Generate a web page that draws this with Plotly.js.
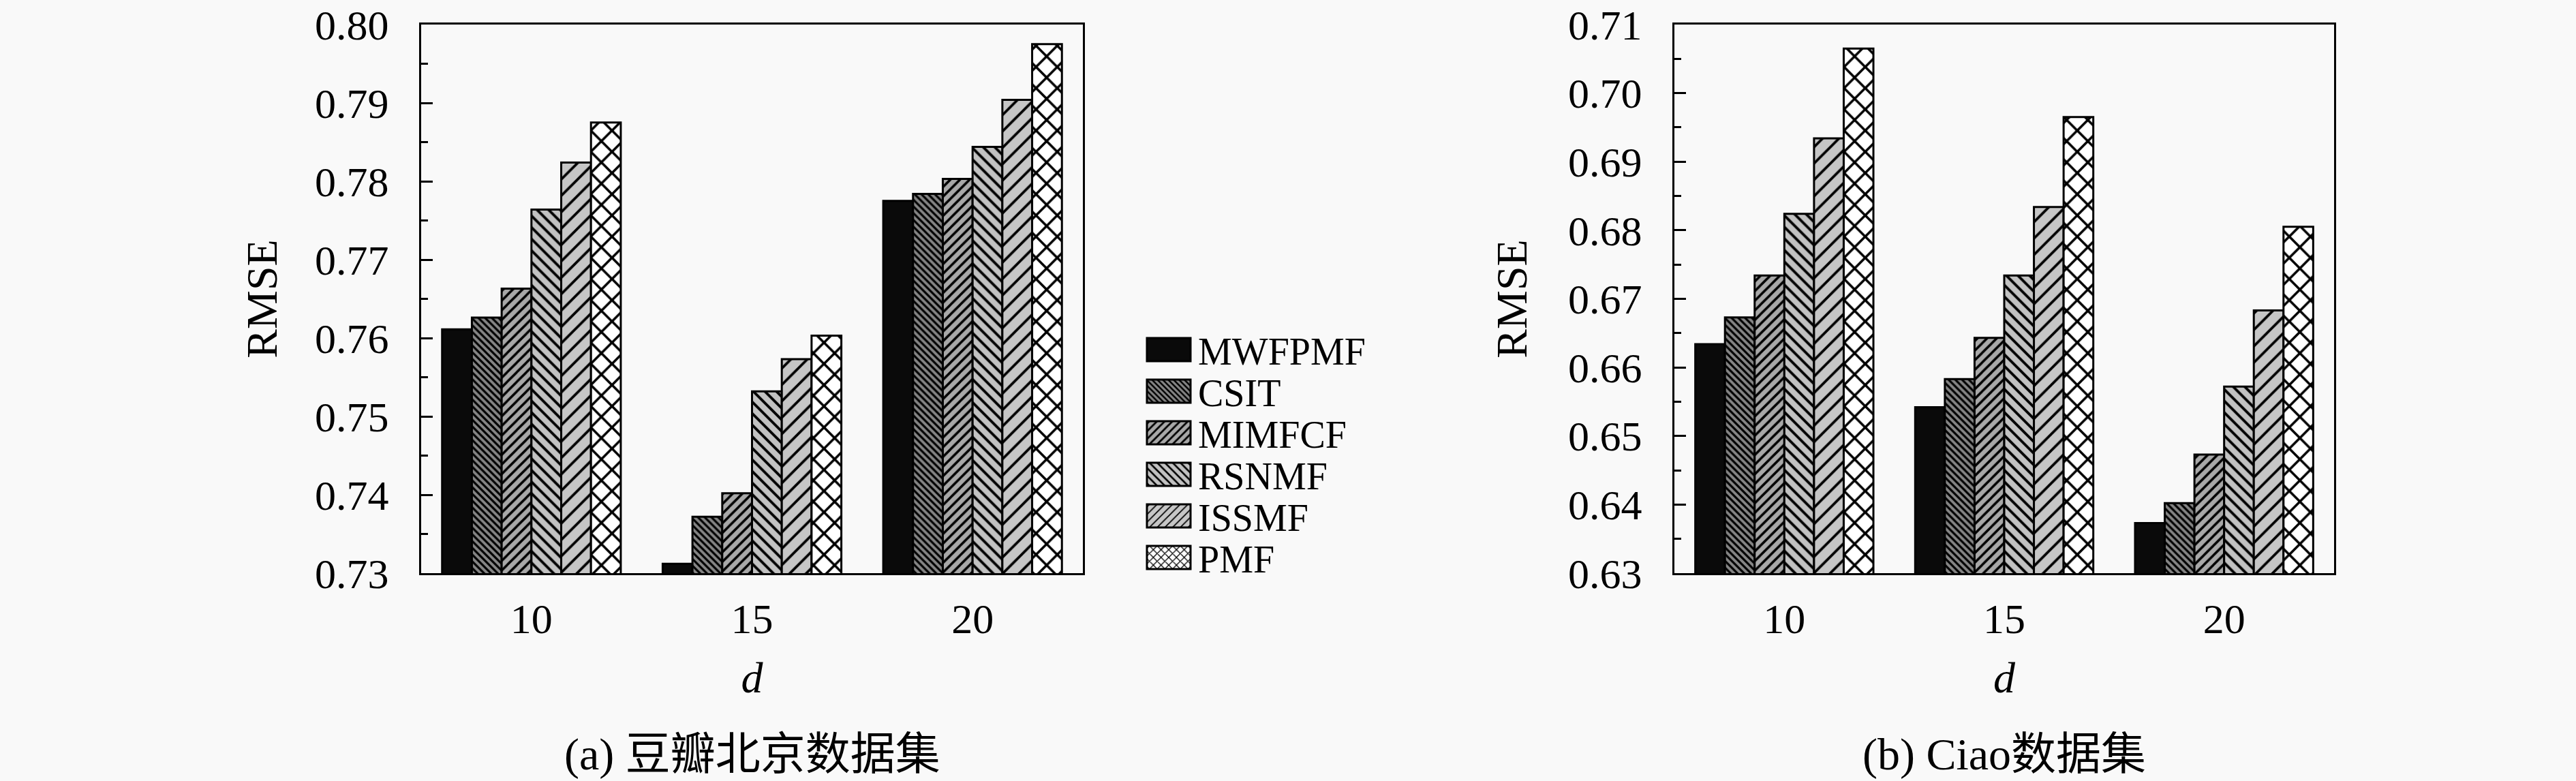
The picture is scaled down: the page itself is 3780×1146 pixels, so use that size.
<!DOCTYPE html>
<html>
<head>
<meta charset="utf-8">
<script src="https://cdn.plot.ly/plotly-3.0.1.min.js"></script>
<style>
  body { margin: 0; background: #f9f9f9; }
  #chart { width: 3780px; height: 1146px; }
</style>
</head>
<body>
<div id="chart"></div>
<script>
const categories = ['10', '15', '20'];
const methods = ['MWFPMF', 'CSIT', 'MIMFCF', 'RSNMF', 'ISSMF', 'PMF'];

// (a) Douban Beijing, RMSE per d
const doubanMWFPMF = [0.7611, 0.7312, 0.7775];
const doubanCSIT   = [0.7626, 0.7372, 0.7784];
const doubanMIMFCF = [0.7663, 0.7402, 0.7803];
const doubanRSNMF  = [0.7764, 0.7532, 0.7844];
const doubanISSMF  = [0.7824, 0.7573, 0.7904];
const doubanPMF    = [0.7875, 0.7603, 0.7975];

// (b) Ciao, RMSE per d
const ciaoMWFPMF = [0.6634, 0.6542, 0.6373];
const ciaoCSIT   = [0.6673, 0.6583, 0.6402];
const ciaoMIMFCF = [0.6734, 0.6643, 0.6473];
const ciaoRSNMF  = [0.6824, 0.6734, 0.6572];
const ciaoISSMF  = [0.6934, 0.6834, 0.6683];
const ciaoPMF    = [0.7065, 0.6965, 0.6805];

const doubanSeries = [doubanMWFPMF, doubanCSIT, doubanMIMFCF, doubanRSNMF, doubanISSMF, doubanPMF];
const ciaoSeries = [ciaoMWFPMF, ciaoCSIT, ciaoMIMFCF, ciaoRSNMF, ciaoISSMF, ciaoPMF];

// hatch styles, one per method
const patterns = [
    {shape: '', bgcolor: '#0a0a0a', fgcolor: '#000', size: 8, solidity: 0.3},
    {shape: '\\', bgcolor: '#858585', fgcolor: '#000', size: 7, solidity: 0.45},
    {shape: '/', bgcolor: '#a8a8a8', fgcolor: '#000', size: 10, solidity: 0.35},
    {shape: '\\', bgcolor: '#c2c2c2', fgcolor: '#000', size: 12, solidity: 0.32},
    {shape: '/', bgcolor: '#c6c6c6', fgcolor: '#000', size: 17, solidity: 0.22},
    {shape: 'x', bgcolor: '#ffffff', fgcolor: '#000', size: 22, solidity: 0.3},
];

const FONT = 'Liberation Serif, Noto Sans CJK SC, serif';
const BG = '#f9f9f9';

function makeTraces(series, xa, ya, showlegend) {
    return series.map((vals, i) => ({
        type: 'bar',
        name: methods[i],
        legendgroup: methods[i],
        showlegend: showlegend,
        x: categories,
        y: vals,
        xaxis: xa,
        yaxis: ya,
        marker: {
            color: patterns[i].bgcolor,
            line: {color: '#000', width: 3},
            pattern: {
                shape: patterns[i].shape,
                bgcolor: patterns[i].bgcolor,
                fgcolor: patterns[i].fgcolor,
                fillmode: 'replace',
                size: patterns[i].size,
                solidity: patterns[i].solidity
            }
        },
        hoverinfo: 'x+y+name'
    }));
}

function yAxis(range, standoff) {
    return {
        range: range,
        dtick: 0.01,
        tick0: 0.63,
        tickformat: '.2f',
        ticks: 'inside',
        ticklen: 17,
        tickwidth: 3,
        tickcolor: '#000',
        minor: {dtick: 0.005, ticks: 'inside', ticklen: 10, tickwidth: 3, tickcolor: '#000'},
        showline: true,
        mirror: true,
        linewidth: 3,
        linecolor: '#000',
        showgrid: false,
        zeroline: false,
        ticklabelstandoff: 32,
        tickfont: {family: FONT, size: 62, color: '#000'},
        title: {text: 'RMSE', font: {family: FONT, size: 64, color: '#000'}, standoff: standoff},
        domain: [1 - 841 / 1146, 1 - 36 / 1146]
    };
}

function xAxis(domain) {
    return {
        type: 'category',
        domain: domain,
        range: [-0.5, 2.5],
        showline: true,
        mirror: true,
        linewidth: 3,
        linecolor: '#000',
        ticks: '',
        showgrid: false,
        ticklabelstandoff: 11,
        tickfont: {family: FONT, size: 62, color: '#000'},
        title: {text: '<i>d</i>', font: {family: FONT, size: 64, color: '#000'}, standoff: 30}
    };
}

const data = makeTraces(doubanSeries, 'x', 'y', true)
    .concat(makeTraces(ciaoSeries, 'x2', 'y2', false));

const layout = {
    width: 3780,
    height: 1146,
    margin: {l: 0, r: 0, t: 0, b: 0},
    paper_bgcolor: BG,
    plot_bgcolor: BG,
    barmode: 'group',
    bargap: 0.19,
    bargroupgap: 0,
    font: {family: FONT, color: '#000'},
    xaxis: xAxis([618 / 3780, 1589 / 3780]),
    yaxis: Object.assign(yAxis([0.73, 0.80], 35), {anchor: 'x'}),
    xaxis2: Object.assign(xAxis([2457 / 3780, 3425 / 3780]), {anchor: 'y2'}),
    yaxis2: Object.assign(yAxis([0.63, 0.71], 40), {anchor: 'x2'}),
    legend: {
        x: 1672 / 3780,
        y: 1 - 470 / 1146,
        xanchor: 'left',
        yanchor: 'top',
        bgcolor: 'rgba(0,0,0,0)',
        font: {family: FONT, size: 56, color: '#000'},
        itemwidth: 76,
        traceorder: 'normal'
    },
    annotations: [
        {text: '(a) 豆瓣北京数据集', xref: 'paper', yref: 'paper', x: 1104 / 3780, y: 0,
         xanchor: 'center', yanchor: 'bottom', showarrow: false,
         font: {family: FONT, size: 66, color: '#000'}},
        {text: '(b) Ciao数据集', xref: 'paper', yref: 'paper', x: 2941 / 3780, y: 0,
         xanchor: 'center', yanchor: 'bottom', showarrow: false,
         font: {family: FONT, size: 66, color: '#000'}}
    ]
};

Plotly.newPlot('chart', data, layout, {staticPlot: true, responsive: false}).then(gd => {
    // bigger legend swatches and tighter rows, as in the printed figure
    const items = gd.querySelectorAll('.legend .traces');
    let x0 = 0, y0 = 0;
    items.forEach((g, i) => {
        const m = /translate\(([-\d.]+)[ ,]+([-\d.]+)\)/.exec(g.getAttribute('transform') || '');
        if (i === 0 && m) { x0 = +m[1]; y0 = +m[2]; }
        g.setAttribute('transform', 'translate(' + x0 + ',' + (y0 + i * 61) + ')');
        g.querySelectorAll('.legendpoints path').forEach(p => {
            p.setAttribute('d', 'M32,17H-32V-17H32Z');
            p.style.strokeWidth = '3px';
        });
    });
});
</script>
</body>
</html>
